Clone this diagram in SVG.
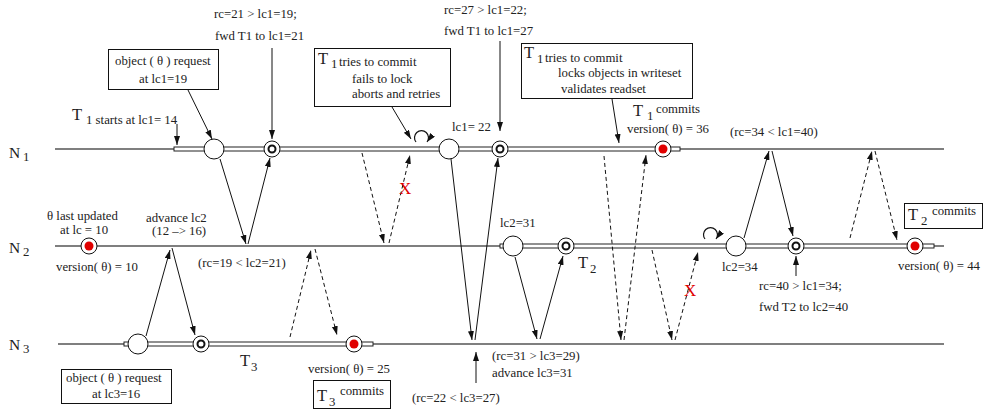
<svg xmlns="http://www.w3.org/2000/svg" width="983" height="412" viewBox="0 0 983 412">
<style>
text{font-family:"Liberation Serif","Times New Roman",serif;font-size:12.8px;fill:#222}
.big{font-size:16.5px}
.nl{font-size:15.5px}
.tl{stroke:#555;stroke-width:1.6;fill:none}
.bar{fill:#fff;stroke:#222;stroke-width:1}
.a{stroke:#111;stroke-width:1;fill:none;marker-end:url(#ah)}
.d{stroke:#111;stroke-width:1;fill:none;stroke-dasharray:4 3;marker-end:url(#ah)}
.lp{stroke:#111;stroke-width:1.2;fill:none;marker-end:url(#ah)}
.oc{fill:#fff;stroke:#111;stroke-width:1}
.in{fill:none;stroke:#111;stroke-width:2}
.red{fill:#e00000}
.box{fill:#fff;stroke:#111;stroke-width:1}
.x{font-size:17px;fill:#e00000}
</style>
<defs>
<marker id="ah" markerUnits="userSpaceOnUse" markerWidth="10" markerHeight="8" refX="9" refY="3" orient="auto">
<path d="M0,0 L9,3 L0,6 z" fill="#111"/>
</marker>
</defs>
<g id="timelines">
<line class="tl" x1="55" y1="149" x2="944" y2="149"/>
<line class="tl" x1="55" y1="246" x2="944" y2="246"/>
<line class="tl" x1="58" y1="344" x2="944" y2="344"/>
<text class="nl" x="9" y="158">N</text><text x="23" y="161">1</text>
<text class="nl" x="9" y="253">N</text><text x="23" y="256">2</text>
<text class="nl" x="9" y="350">N</text><text x="23" y="353">3</text>
</g>
<g id="bars">
<rect class="bar" x="174" y="147" width="506" height="4"/>
<rect class="bar" x="500" y="244" width="434" height="4"/>
<rect class="bar" x="124" y="342" width="249" height="4"/>
</g>
<g id="connectors">
<line class="a" x1="220" y1="159" x2="246" y2="244"/>
<line class="a" x1="248" y1="244" x2="270" y2="158"/>
<line class="a" x1="146" y1="336" x2="170" y2="250"/>
<line class="a" x1="172" y1="248" x2="195" y2="335"/>
<line class="a" x1="451" y1="159" x2="472" y2="340"/>
<line class="a" x1="475" y1="340" x2="498" y2="158"/>
<line class="a" x1="515" y1="257" x2="537" y2="339"/>
<line class="a" x1="540" y1="339" x2="563" y2="256"/>
<line class="a" x1="744" y1="238" x2="769" y2="151"/>
<line class="a" x1="772" y1="151" x2="793" y2="236"/>
<line class="d" x1="362" y1="153" x2="384" y2="243"/>
<line class="d" x1="389" y1="243" x2="410" y2="155"/>
<line class="d" x1="290" y1="337" x2="311" y2="250"/>
<line class="d" x1="315" y1="249" x2="337" y2="335"/>
<line class="d" x1="604" y1="156" x2="621" y2="340"/>
<line class="d" x1="624" y1="340" x2="646" y2="155"/>
<line class="d" x1="652" y1="250" x2="672" y2="340"/>
<line class="d" x1="675" y1="340" x2="698" y2="252"/>
<line class="d" x1="850" y1="238" x2="872" y2="151"/>
<line class="d" x1="875" y1="151" x2="897" y2="240"/>
<line class="a" x1="177" y1="124" x2="177" y2="145"/>
<line class="a" x1="272" y1="48" x2="272" y2="139"/>
<line class="a" x1="188" y1="90" x2="212" y2="139"/>
<line class="a" x1="392" y1="107" x2="411" y2="139"/>
<line class="a" x1="500" y1="41" x2="500" y2="131"/>
<line class="a" x1="612" y1="99" x2="619" y2="143"/>
<line class="a" x1="796" y1="276" x2="796" y2="256"/>
<line class="a" x1="476" y1="383" x2="476" y2="352"/>
<path class="lp" d="M416,142 A7,7 0 1 1 427,142"/>
<path class="lp" d="M705,239 A7,7 0 1 1 716,239"/>
<text class="x" x="399" y="194">X</text>
<text class="x" x="684" y="296">X</text>
</g>
<g id="events">
<circle class="oc" cx="214" cy="149" r="10"/>
<circle class="oc" cx="272" cy="149" r="8"/><circle class="in" cx="272" cy="149" r="3.5"/>
<circle class="oc" cx="449" cy="149" r="10"/>
<circle class="oc" cx="500" cy="149" r="8"/><circle class="in" cx="500" cy="149" r="3.5"/>
<circle class="oc" cx="663" cy="149" r="8"/><circle class="red" cx="663" cy="149" r="4.5"/>
<circle class="oc" cx="89" cy="246" r="8"/><circle class="red" cx="89" cy="246" r="4.5"/>
<circle class="oc" cx="513" cy="246" r="10"/>
<circle class="oc" cx="566" cy="246" r="8"/><circle class="in" cx="566" cy="246" r="3.5"/>
<circle class="oc" cx="736" cy="246" r="10"/>
<circle class="oc" cx="796" cy="246" r="8"/><circle class="in" cx="796" cy="246" r="3.5"/>
<circle class="oc" cx="915" cy="246" r="8"/><circle class="red" cx="915" cy="246" r="4.5"/>
<circle class="oc" cx="138" cy="344" r="10"/>
<circle class="oc" cx="201" cy="344" r="8"/><circle class="in" cx="201" cy="344" r="3.5"/>
<circle class="oc" cx="354" cy="344" r="8"/><circle class="red" cx="354" cy="344" r="4.5"/>
</g>
<g id="n1-labels">
<text class="big" x="72" y="120">T</text><text x="86" y="124">1 starts at lc1= 14</text>
<rect class="box" x="108.5" y="49.5" width="110" height="40"/>
<text x="115" y="65">object ( θ ) request</text>
<text x="139" y="83">at lc1=19</text>
<text x="214" y="18">rc=21 &gt; lc1=19;</text>
<text x="215" y="40">fwd T1 to lc1=21</text>
<rect class="box" x="314.5" y="48.5" width="136" height="58"/>
<text class="big" x="318" y="64">T</text><text x="331" y="68">1</text><text x="339" y="66">tries to commit</text>
<text x="352" y="83">fails to lock</text>
<text x="352" y="98">aborts and retries</text>
<text x="444" y="14">rc=27 &gt; lc1=22;</text>
<text x="444" y="35">fwd T1 to lc1=27</text>
<text x="452" y="131">lc1= 22</text>
<rect class="box" x="521.5" y="43.5" width="171" height="55"/>
<text class="big" x="524" y="58">T</text><text x="537" y="63">1</text><text x="545" y="62">tries to commit</text>
<text x="558" y="77">locks objects in writeset</text>
<text x="561" y="93">validates readset</text>
<text class="big" x="633" y="116">T</text><text x="647" y="120">1</text><text x="656" y="113">commits</text>
<text x="627" y="133">version( θ) = 36</text>
<text x="730" y="136">(rc=34 &lt; lc1=40)</text>
</g>
<g id="n2-labels">
<text x="47" y="220">θ  last updated</text>
<text x="60" y="234">at lc = 10</text>
<text x="56" y="271">version( θ) = 10</text>
<text x="146" y="222">advance lc2</text>
<text x="152" y="235">(12 –&gt; 16)</text>
<text x="198" y="267">(rc=19 &lt; lc2=21)</text>
<text x="500" y="227">lc2=31</text>
<text class="big" x="578" y="268">T</text><text x="590" y="273">2</text>
<text x="722" y="271">lc2=34</text>
<text x="759" y="290">rc=40 &gt; lc1=34;</text>
<text x="759" y="311">fwd T2 to lc2=40</text>
<text x="898" y="270">version( θ) = 44</text>
<rect class="box" x="904.5" y="203.5" width="78" height="25"/>
<text class="big" x="908" y="220">T</text><text x="921" y="225">2</text><text x="932" y="215">commits</text>
</g>
<g id="n3-labels">
<text class="big" x="240" y="366">T</text><text x="251" y="371">3</text>
<rect class="box" x="61.5" y="369.5" width="110" height="34"/>
<text x="66" y="382">object ( θ ) request</text>
<text x="92" y="398">at lc3=16</text>
<text x="308" y="373">version( θ) = 25</text>
<rect class="box" x="313.5" y="380.5" width="77" height="28"/>
<text class="big" x="317" y="401">T</text><text x="329" y="406">3</text><text x="340" y="395">commits</text>
<text x="412" y="402">(rc=22 &lt; lc3=27)</text>
<text x="492" y="360">(rc=31 &gt; lc3=29)</text>
<text x="492" y="377">advance lc3=31</text>
</g>
</svg>
